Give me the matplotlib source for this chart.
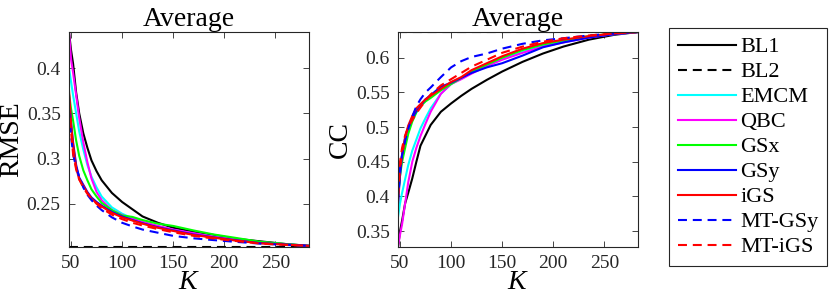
import numpy as np
import matplotlib
matplotlib.use("Agg")
import matplotlib.pyplot as plt

plt.rcParams['font.family'] = ['Liberation Serif', 'DejaVu Serif']
plt.rcParams['mathtext.fontset'] = 'custom'
plt.rcParams['mathtext.it'] = 'Liberation Serif:italic'
plt.rcParams['mathtext.rm'] = 'Liberation Serif'

# number of labeled samples K (common sample grid for both panels)
K = [48, 50, 52, 55, 58, 62, 66, 70, 75, 80, 90, 100, 110, 120, 135, 150, 170, 190, 210, 235, 260, 283]

labels = ['BL1', 'BL2', 'EMCM', 'QBC', 'GSx', 'GSy', 'iGS', 'MT-GSy', 'MT-iGS']

# RMSE (left panel)
rmse_bl1 = [0.44, 0.42, 0.405, 0.373, 0.35, 0.328, 0.312, 0.298, 0.286, 0.276, 0.262, 0.252, 0.244, 0.236, 0.229, 0.2235, 0.219, 0.2155, 0.2115, 0.2085, 0.2055, 0.2035]
rmse_bl2 = 0.2022
rmse_emcm = [0.40, 0.385, 0.37, 0.35, 0.33, 0.31, 0.293, 0.28, 0.268, 0.258, 0.246, 0.239, 0.234, 0.2295, 0.225, 0.221, 0.217, 0.2135, 0.2105, 0.2075, 0.2052, 0.2035]
rmse_qbc = [0.44, 0.41, 0.395, 0.37, 0.345, 0.318, 0.296, 0.278, 0.263, 0.254, 0.243, 0.2375, 0.2335, 0.23, 0.2255, 0.2215, 0.2175, 0.2135, 0.2105, 0.2075, 0.2052, 0.2035]
rmse_gsx = [0.372, 0.355, 0.342, 0.32, 0.303, 0.287, 0.276, 0.266, 0.258, 0.251, 0.243, 0.237, 0.2355, 0.232, 0.228, 0.2255, 0.2205, 0.216, 0.2125, 0.208, 0.2055, 0.2035]
rmse_gsy = [0.37, 0.34, 0.318, 0.293, 0.279, 0.271, 0.263, 0.257, 0.252, 0.248, 0.241, 0.236, 0.232, 0.2285, 0.224, 0.2205, 0.216, 0.2128, 0.2098, 0.2065, 0.205, 0.2035]
rmse_igs = [0.376, 0.338, 0.315, 0.29, 0.277, 0.27, 0.262, 0.2555, 0.251, 0.247, 0.24, 0.235, 0.2315, 0.228, 0.2235, 0.22, 0.2155, 0.2125, 0.2095, 0.2063, 0.2048, 0.2035]
rmse_mtgsy = [0.355, 0.325, 0.305, 0.29, 0.28, 0.268, 0.26, 0.254, 0.248, 0.243, 0.235, 0.229, 0.225, 0.2215, 0.218, 0.2145, 0.2118, 0.2098, 0.208, 0.206, 0.2045, 0.2035]
rmse_mtigs = [0.36, 0.33, 0.305, 0.288, 0.277, 0.268, 0.261, 0.256, 0.25, 0.245, 0.238, 0.233, 0.229, 0.226, 0.222, 0.2185, 0.2145, 0.2115, 0.209, 0.206, 0.2045, 0.2035]

# CC (right panel)
cc_bl1 = [0.327, 0.35, 0.365, 0.39, 0.405, 0.426, 0.45, 0.473, 0.488, 0.503, 0.522, 0.534, 0.545, 0.555, 0.568, 0.58, 0.594, 0.606, 0.616, 0.626, 0.633, 0.637]
cc_bl2 = 0.637
cc_emcm = [0.37, 0.39, 0.405, 0.425, 0.445, 0.466, 0.482, 0.498, 0.513, 0.527, 0.548, 0.562, 0.57, 0.578, 0.589, 0.598, 0.608, 0.617, 0.623, 0.63, 0.634, 0.637]
cc_qbc = [0.327, 0.345, 0.36, 0.39, 0.42, 0.45, 0.47, 0.487, 0.505, 0.522, 0.548, 0.562, 0.569, 0.577, 0.588, 0.597, 0.607, 0.616, 0.622, 0.629, 0.634, 0.637]
cc_gsx = [0.40, 0.43, 0.45, 0.47, 0.49, 0.508, 0.521, 0.53, 0.537, 0.542, 0.553, 0.562, 0.571, 0.58, 0.59, 0.6, 0.611, 0.619, 0.625, 0.631, 0.635, 0.637]
cc_gsy = [0.39, 0.43, 0.46, 0.485, 0.5, 0.513, 0.523, 0.531, 0.54, 0.546, 0.558, 0.564, 0.571, 0.578, 0.586, 0.592, 0.603, 0.615, 0.622, 0.629, 0.634, 0.637]
cc_igs = [0.395, 0.44, 0.46, 0.485, 0.502, 0.516, 0.527, 0.533, 0.54, 0.545, 0.555, 0.565, 0.572, 0.582, 0.592, 0.602, 0.613, 0.621, 0.626, 0.631, 0.635, 0.637]
cc_mtgsy = [0.39, 0.44, 0.46, 0.48, 0.497, 0.515, 0.53, 0.54, 0.55, 0.557, 0.572, 0.586, 0.595, 0.601, 0.606, 0.613, 0.62, 0.625, 0.628, 0.632, 0.635, 0.637]
cc_mtigs = [0.40, 0.45, 0.47, 0.488, 0.5, 0.51, 0.52, 0.528, 0.538, 0.547, 0.56, 0.569, 0.578, 0.587, 0.597, 0.607, 0.616, 0.623, 0.628, 0.632, 0.635, 0.637]

# MATLAB-style pure colours
colors = ['#000000', '#000000', '#00ffff', '#ff00ff', '#00ff00', '#0000ff', '#ff0000', '#0000ff', '#ff0000']
styles = ['-', '--', '-', '-', '-', '-', '-', '--', '--']
DASH = (4.3, 2.8)


def draw(ax, series, bl2, ylim, yticks, ylabel):
    for i, (y, lab) in enumerate(zip(series, labels)):
        if y is None:
            yy = [bl2, bl2]
            xx = [K[0], K[-1]]
        else:
            xx, yy = K, y
        ln, = ax.plot(xx, yy, color=colors[i], lw=1.5, label=lab)
        if styles[i] == '--':
            ln.set_dashes(DASH)
    ax.set_xlim(K[0], K[-1])
    ax.set_ylim(*ylim)
    ax.set_xticks([50, 100, 150, 200, 250])
    ax.set_xticklabels(['50', '100', '150', '200', '250'])
    ax.set_yticks(yticks)
    ax.set_yticklabels([('%g' % t) for t in yticks])
    ax.tick_params(direction='in', top=True, right=True, length=4, width=0.6,
                   labelsize=14, colors='0.15', pad=6)
    for t in ax.get_xticklabels() + ax.get_yticklabels():
        t.set_fontfamily('Liberation Serif')
    for s in ax.spines.values():
        s.set_color('0.15')
        s.set_linewidth(0.8)
    ax.set_title('Average', fontsize=20, pad=4)
    ax.set_xlabel('$K$', fontsize=20, labelpad=-2)
    ax.set_ylabel(ylabel, fontsize=20, labelpad=2)


fig = plt.figure(figsize=(8.3, 3.01), dpi=100)
ax1 = fig.add_axes([69 / 830, 54 / 301, 240 / 830, 215 / 301])
ax2 = fig.add_axes([398 / 830, 54 / 301, 240 / 830, 215 / 301])

draw(ax1, [rmse_bl1, None, rmse_emcm, rmse_qbc, rmse_gsx, rmse_gsy, rmse_igs, rmse_mtgsy, rmse_mtigs],
     rmse_bl2, (rmse_bl2, 0.44), [0.25, 0.3, 0.35, 0.4], 'RMSE')
draw(ax2, [cc_bl1, None, cc_emcm, cc_qbc, cc_gsx, cc_gsy, cc_igs, cc_mtgsy, cc_mtigs],
     cc_bl2, (0.327, cc_bl2), [0.35, 0.4, 0.45, 0.5, 0.55, 0.6], 'CC')

h, l = ax2.get_legend_handles_labels()
leg = fig.legend(h, l, loc='upper left', bbox_to_anchor=(669 / 830, 1 - 28 / 301),
                 fontsize=16, handlelength=2.6, labelspacing=0.2, handletextpad=0.2,
                 borderpad=0.4, fancybox=False, framealpha=1, borderaxespad=0)
leg.get_frame().set_edgecolor('0.15')
leg.get_frame().set_linewidth(0.8)

fig.savefig('out.png', dpi=100)
